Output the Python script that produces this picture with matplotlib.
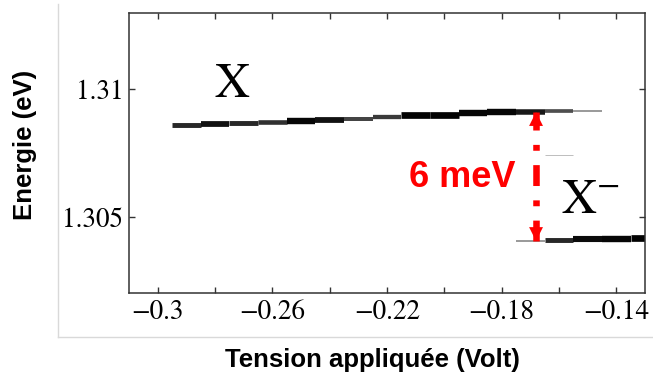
import numpy as np
import matplotlib
matplotlib.use("Agg")
import matplotlib.pyplot as plt
from matplotlib.lines import Line2D

# exciton X : applied voltage (V), energy (eV), relative intensity
volt_x = [-0.29, -0.28, -0.27, -0.26, -0.25, -0.24, -0.23, -0.22,
          -0.21, -0.20, -0.19, -0.18, -0.17, -0.16, -0.15]
energy_x = [1.30859, 1.30863, 1.30867, 1.30870, 1.30875, 1.30878, 1.30883, 1.30891,
            1.30897, 1.30900, 1.30905, 1.30909, 1.30910, 1.30915, 1.30915]
inten_x = [0.65, 0.8, 0.65, 0.6, 0.9, 0.8, 0.5, 0.55,
           0.95, 0.95, 0.9, 0.9, 0.75, 0.45, 0.15]

# trion X- 
volt_t = [-0.17, -0.16, -0.15, -0.14, -0.13]
energy_t = [1.30406, 1.30411, 1.30414, 1.30414, 1.30419]
inten_t = [0.15, 0.65, 0.85, 0.9, 0.95]

# faint extra line
volt_f = [-0.16]
energy_f = [1.30742]
inten_f = [0.0]

step = 0.01
arrow_v = -0.168
xticks_major = [-0.30, -0.26, -0.22, -0.18, -0.14]
xticks_minor = [-0.28, -0.24, -0.20, -0.16]
yticks = [1.305, 1.31]

plt.rcParams['mathtext.fontset'] = 'stix'

def gray(i):
    g = 0.75 * (1 - np.asarray(i)) ** 1.5
    return [(v, v, v) for v in g]

def width(i):
    return (1 + 6 * np.asarray(i)) * 0.72

fig = plt.figure(figsize=(6.53, 3.81), dpi=100)
ax = fig.add_axes([0.1975, 0.231, 0.7902, 0.7349])

for v, e, it in [(volt_x, energy_x, inten_x), (volt_t, energy_t, inten_t), (volt_f, energy_f, inten_f)]:
    v = np.asarray(v)
    ax.hlines(e, v - step / 2, v + step / 2, colors=gray(it), linewidths=width(it))

ax.set_xlim(-0.31, -0.13)
ax.set_ylim(1.30203, 1.31297)

# double arrow between the two lines at the same voltage
e_top = energy_x[volt_x.index(-0.17)]
e_bot = energy_t[volt_t.index(-0.17)]
ax.plot([arrow_v, arrow_v], [e_bot, e_top], color='red', lw=4.7,
        dashes=(3.2, 2.2, 0.9, 2.2), dash_capstyle='butt', solid_capstyle='butt')
for tip, tail in [(e_top, e_bot), (e_bot, e_top)]:
    ax.annotate('', xy=(arrow_v, tip), xytext=(arrow_v, tail),
                arrowprops=dict(arrowstyle='-|>,head_length=1.0,head_width=0.5',
                                mutation_scale=10, color='red', lw=0,
                                shrinkA=0, shrinkB=0))

ax.text(-0.1939, 1.30617, '6 meV', color='red', fontsize=26, fontweight='bold',
        family='Liberation Sans', ha='center', va='baseline')
ax.text(-0.2739, 1.30969, r'$\mathrm{X}$', fontsize=35, ha='center', va='baseline')
ax.text(-0.1592, 1.30516, r'$\mathrm{X}^{-}$', fontsize=35, ha='left', va='baseline')

ax.set_xticks(xticks_major)
ax.set_xticks(xticks_minor, minor=True)
ax.set_yticks(yticks)
ax.set_xticklabels([('%g' % t).replace('-', '\u2212') for t in xticks_major])
ax.set_yticklabels(['%g' % t for t in yticks])
for lab in ax.get_xticklabels() + ax.get_yticklabels():
    lab.set_family('STIXGeneral')
    lab.set_fontsize(19.5)
ax.tick_params(which='both', direction='in', top=True, right=True, length=4,
               width=1, color='#333333')
ax.tick_params(axis='x', pad=5)
ax.tick_params(axis='y', pad=4)
for s in ax.spines.values():
    s.set_color('#333333')
    s.set_linewidth(1.1)

fig.text(0.038, 1 - 145 / 381, 'Energie (eV)', rotation=90, fontsize=18.5,
         fontweight='bold', family='Liberation Sans', ha='center', va='center')
fig.text(372 / 653, 1 - 360 / 381, 'Tension appliqu\u00e9e (Volt)', fontsize=18.5,
         fontweight='bold', family='Liberation Sans', ha='center', va='center')

# light frame of the original figure
fig.add_artist(Line2D([0.0888, 0.0888], [0.1155, 0.9895], color='#d9d9d9', lw=1))
fig.add_artist(Line2D([0.0888, 1.0], [0.1155, 0.1155], color='#d9d9d9', lw=1))

fig.savefig('out.png', dpi=100)
